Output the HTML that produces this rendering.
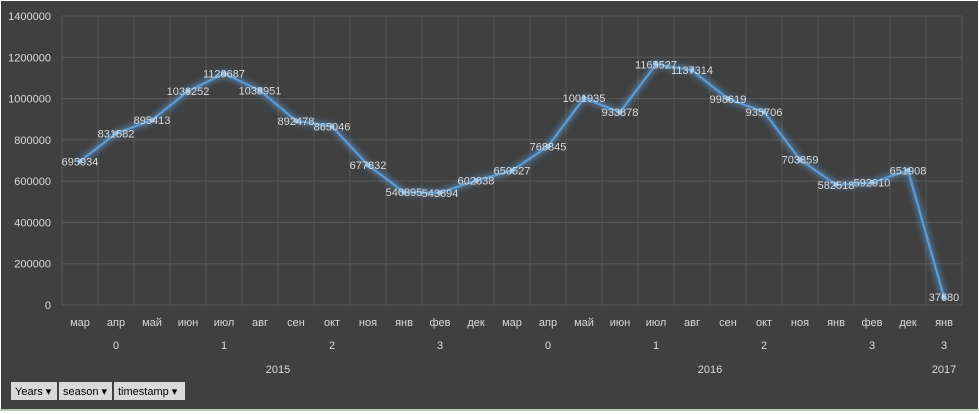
<!DOCTYPE html>
<html><head><meta charset="utf-8"><style>
body{margin:0;background:#fff;}
svg{display:block;font-family:"Liberation Sans",sans-serif;}
</style></head><body>
<svg width="979" height="414" xmlns="http://www.w3.org/2000/svg">
<defs><filter id="glow" x="-10%" y="-10%" width="120%" height="120%"><feGaussianBlur stdDeviation="3"/></filter></defs>
<rect x="0" y="0" width="979" height="414" fill="#fff"/>
<rect x="1" y="1" width="977" height="408" fill="#404040"/>
<line x1="0" y1="410" x2="979" y2="410" stroke="#6a9a7a" stroke-width="1"/>
<g id="grid"></g>
<g id="axes"></g>
<g id="series"></g>
<g font-size="11" fill="#000">
<rect x="11" y="382" width="46" height="18" fill="#d9d9d9"/>
<text x="15" y="395">Years ▾</text>
<rect x="59" y="382" width="53" height="18" fill="#d9d9d9"/>
<text x="63" y="395">season ▾</text>
<rect x="114" y="382" width="71" height="18" fill="#d9d9d9"/>
<text x="118" y="395">timestamp ▾</text>
</g>
</svg>
<script>
const months=["мар","апр","май","июн","июл","авг","сен","окт","ноя","янв","фев","дек","мар","апр","май","июн","июл","авг","сен","окт","ноя","янв","фев","дек","янв"];
const values=[695934,831582,895413,1036252,1120687,1038951,892478,865046,677832,546395,543694,602838,650527,768845,1001935,933878,1165527,1137314,998619,935706,703859,582518,592910,651908,37680];
const seasons=["0","1","2","3","0","1","2","3","3"];
const seasonSpans=[3,3,3,3,3,3,3,3,1];
const years=["2015","2016","2017"];
const yearSpans=[12,12,1];
const yTicks=[0,200000,400000,600000,800000,1000000,1200000,1400000];
const NS="http://www.w3.org/2000/svg";
const L=62,R=962,T=16,B=305,YMAX=1400000;
const bw=(R-L)/months.length;
const x=i=>L+bw*(i+0.5);
const y=v=>B-(v/YMAX)*(B-T);
function mk(tag,attrs,parent,text){const e=document.createElementNS(NS,tag);for(const k in attrs)e.setAttribute(k,attrs[k]);if(text!==undefined)e.textContent=text;parent.appendChild(e);return e;}
const grid=document.getElementById('grid'),axes=document.getElementById('axes'),ser=document.getElementById('series');
yTicks.forEach(t=>{
 const g=mk('line',{x1:L,x2:R,y1:y(t),y2:y(t),stroke:'#595959','stroke-width':1},grid);
 
 
 const lb=mk('text',{x:51,y:y(t)+4,'text-anchor':'end','font-size':11,fill:'#d9d9d9'},axes,String(t));
 
 
});
for(let i=0;i<=months.length;i++){
 const g=mk('line',{x1:L+bw*i,x2:L+bw*i,y1:T,y2:B,stroke:'#595959','stroke-width':1},grid);
 
 
}
months.forEach((m,i)=>{
 const t=mk('text',{x:x(i),y:326,'text-anchor':'middle','font-size':11,fill:'#d9d9d9'},axes,m);
 
 
});
let c=0;
seasons.forEach((s,i)=>{
 const cx=L+bw*(c+seasonSpans[i]/2);c+=seasonSpans[i];
 const t=mk('text',{x:cx,y:349,'text-anchor':'middle','font-size':11,fill:'#d9d9d9'},axes,s);
 
 
});
c=0;
years.forEach((s,i)=>{
 const cx=L+bw*(c+yearSpans[i]/2);c+=yearSpans[i];
 const t=mk('text',{x:cx,y:373,'text-anchor':'middle','font-size':11,fill:'#d9d9d9'},axes,s);
 
 
});
const pts=values.map((v,i)=>x(i)+','+y(v)).join(' ');
const gl=mk('polyline',{points:pts,fill:'none',stroke:'#5b9bd5','stroke-width':6,opacity:0.6,filter:'url(#glow)'},ser);


const ln=mk('polyline',{points:pts,fill:'none',stroke:'#5b9bd5','stroke-width':2.2,'stroke-linejoin':'round'},ser);


values.forEach((v,i)=>{
 const p=mk('circle',{cx:x(i),cy:y(v),r:2.5,fill:'#8fbfe8'},ser);
 
 
 const t=mk('text',{x:x(i),y:y(v)+4,'text-anchor':'middle','font-size':11,fill:'#d9d9d9'},ser,String(v));
 
 
});
</script>
</body></html>
